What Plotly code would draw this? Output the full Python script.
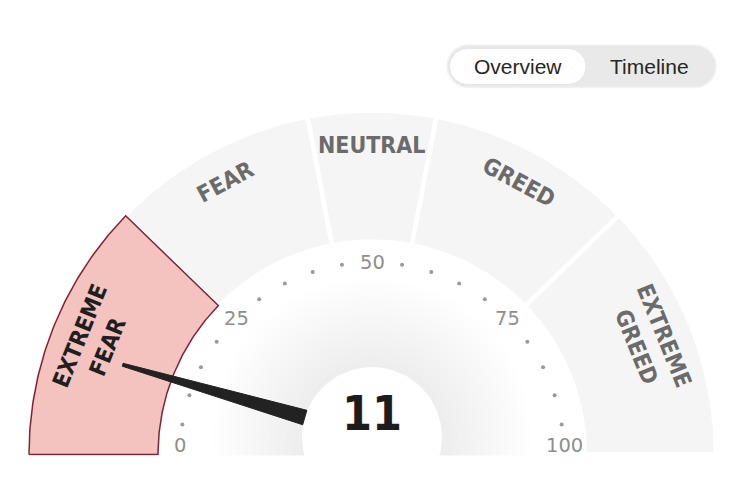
import numpy as np
import plotly.graph_objects as go

# ---------------- data ----------------
current_value = 11
band_names = ["EXTREME<br>FEAR", "FEAR", "NEUTRAL", "GREED", "EXTREME<br>GREED"]
band_edges = [0, 24.5, 44, 56, 75.5, 100]
active_band = 0
tick_values = [0, 25, 50, 75, 100]
tick_labels = ["0", "25", "50", "75", "100"]
dot_values = [v for v in range(0, 101, 5) if v % 25 != 0]
toggle_labels = ["Overview", "Timeline"]

# ---------------- geometry / style ----------------
W, H = 743, 489
CX, CY = 372, 454.5          # gauge centre (pixels)
PX, PY = 372, 437            # needle pivot / centre disc
R_OUT, R_IN = 344, 213
R_DOT = 192
GRAY = "#f5f5f5"
PINK = "#f4c3c0"
DARKRED = "#7e2432"


def ang(v):
    return np.pi * (1 - v / 100.0)


def pt(r, v, cx=CX, cy=CY):
    a = ang(v)
    return cx + r * np.cos(a), cy - r * np.sin(a)


def band_poly(lo, hi, r_out, r_in):
    vs = np.linspace(lo, hi, 80)
    xo, yo = pt(r_out, vs)
    xi, yi = pt(r_in, vs[::-1])
    xs = list(xo) + list(xi) + [xo[0]]
    ys = list(yo) + list(yi) + [yo[0]]
    return xs, ys


def circle(cx, cy, r, n=120):
    t = np.linspace(0, 2 * np.pi, n)
    return list(cx + r * np.cos(t)), list(cy + r * np.sin(t))


def pill(x0, x1, y0, y1):
    r = (y1 - y0) / 2
    t1 = np.linspace(np.pi / 2, 3 * np.pi / 2, 40)
    t2 = np.linspace(-np.pi / 2, np.pi / 2, 40)
    xs = list(x0 + r + r * np.cos(t1)) + list(x1 - r + r * np.cos(t2))
    ys = list(y0 + r - r * np.sin(t1)) + list(y0 + r - r * np.sin(t2))
    xs.append(xs[0]); ys.append(ys[0])
    return xs, ys


fig = go.Figure()

# gray bands
for i in range(len(band_names)):
    xs, ys = band_poly(band_edges[i], band_edges[i + 1], R_OUT, R_IN)
    fig.add_trace(go.Scatter(x=xs, y=ys, fill="toself", fillcolor=GRAY,
                             line=dict(color="white", width=4.5), mode="lines",
                             hoverinfo="skip"))

# active band
xs, ys = band_poly(band_edges[active_band], band_edges[active_band + 1], R_OUT - 1, R_IN + 1)
fig.add_trace(go.Scatter(x=xs, y=ys, fill="toself", fillcolor=PINK,
                         line=dict(color=DARKRED, width=1.5), mode="lines",
                         hoverinfo="skip"))

# halo around centre disc
for k, r in enumerate(np.linspace(160, 72, 18)):
    hx, hy = circle(PX, PY, r)
    fig.add_trace(go.Scatter(x=hx, y=hy, fill="toself",
                             fillcolor="rgba(0,0,0,0.003)",
                             line=dict(width=0), mode="lines", hoverinfo="skip"))
hx, hy = circle(PX, PY, 70)
fig.add_trace(go.Scatter(x=hx, y=hy, fill="toself", fillcolor="white",
                         line=dict(width=0), mode="lines", hoverinfo="skip"))
# white bottom strip
fig.add_trace(go.Scatter(x=[0, W, W, 0, 0], y=[CY + 1, CY + 1, H, H, CY + 1],
                         fill="toself", fillcolor="white", line=dict(width=0),
                         mode="lines", hoverinfo="skip"))

# tick dots
dx, dy = pt(R_DOT, np.array(dot_values))
fig.add_trace(go.Scatter(x=dx, y=dy, mode="markers",
                         marker=dict(size=4, color="#9a9a9a"), hoverinfo="skip"))

# needle
tx, ty = pt(265, current_value)
ux, uy = tx - PX, ty - PY
L = np.hypot(ux, uy)
ux, uy = ux / L, uy / L
bx, by = PX + 70 * ux, PY + 70 * uy
nx, ny = -uy, ux
wb, wt = 7.5, 1.5
needle_x = [bx + nx * wb, tx + nx * wt, tx - nx * wt, bx - nx * wb, bx + nx * wb]
needle_y = [by + ny * wb, ty + ny * wt, ty - ny * wt, by - ny * wb, by + ny * wb]
fig.add_trace(go.Scatter(x=needle_x, y=needle_y, fill="toself", fillcolor="#222222",
                         line=dict(color="#222222", width=1), mode="lines",
                         hoverinfo="skip"))

# toggle pill
ox, oy = pill(447, 716, 45, 87.5)
fig.add_trace(go.Scatter(x=ox, y=oy, fill="toself", fillcolor="#e9e9e9",
                         line=dict(color="#f2f2f2", width=1.5), mode="lines",
                         hoverinfo="skip"))
ix, iy = pill(449.5, 586, 48.5, 84.5)
fig.add_trace(go.Scatter(x=ix, y=iy, fill="toself", fillcolor="white",
                         line=dict(color="#e2e2e2", width=0.8), mode="lines",
                         hoverinfo="skip"))

annotations = []
# toggle labels
for lbl, x in zip(toggle_labels, [517.5, 649]):
    annotations.append(dict(x=x, y=66, text=lbl, showarrow=False,
                            xanchor="center", yanchor="middle",
                            font=dict(family="Liberation Sans, Arial", size=21, color="#262626")))

# band labels
for i, name in enumerate(band_names):
    mid = (band_edges[i] + band_edges[i + 1]) / 2
    two = "<br>" in name
    r = 301 if two else 310
    x, y = pt(r, mid)
    rot = 90 - np.degrees(ang(mid))
    annotations.append(dict(x=x, y=y, text=name, showarrow=False,
                            xanchor="center", yanchor="middle", textangle=rot,
                            align="center",
                            font=dict(family="DejaVu Sans Condensed, DejaVu Sans",
                                      size=23, weight="bold",
                                      color="#1f1f1f" if i == active_band else "#6b6b6b")))

# tick labels
for v, lbl in zip(tick_values, tick_labels):
    x, y = pt(R_DOT, v)
    if v in (0, 100):
        y = y - 9
    annotations.append(dict(x=x, y=y, text=lbl, showarrow=False,
                            xanchor="center", yanchor="middle",
                            font=dict(family="DejaVu Sans", size=19.5, color="#8e8e8e")))

# value
annotations.append(dict(x=PX, y=413, text=str(current_value), showarrow=False,
                        xanchor="center", yanchor="middle",
                        font=dict(family="DejaVu Sans Condensed, DejaVu Sans", size=48,
                                  weight="bold", color="#1c1c1c")))

fig.update_layout(
    width=W, height=H, margin=dict(l=0, r=0, t=0, b=0),
    paper_bgcolor="white", plot_bgcolor="white", showlegend=False,
    xaxis=dict(range=[0, W], visible=False, fixedrange=True),
    yaxis=dict(range=[H, 0], visible=False, fixedrange=True),
    annotations=annotations,
)
fig.write_html("out.html", config={"displayModeBar": False})
